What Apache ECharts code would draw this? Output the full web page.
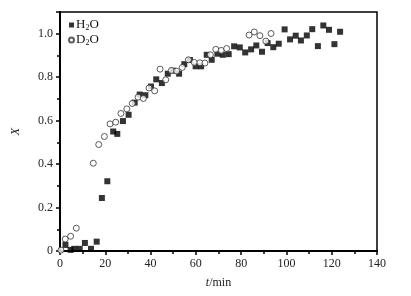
<!DOCTYPE html>
<html>
<head>
<meta charset="utf-8">
<script src="https://cdn.jsdelivr.net/npm/echarts@6/dist/echarts.min.js"></script>
<style>
  html, body { margin: 0; padding: 0; background: #fff; }
  #chart { width: 411px; height: 296px; }
</style>
</head>
<body>
<div id="chart"></div>
<script>
// H2O (filled squares): [t/min, X]
const h2oData = [
  [2.4, 0.028], [4.7, 0.005], [6.3, 0.01], [8.7, 0.01], [11.0, 0.037], [13.7, 0.01],
  [16.2, 0.043], [18.5, 0.244], [20.9, 0.321], [23.5, 0.55], [25.3, 0.539], [27.8, 0.598],
  [30.3, 0.627], [33.0, 0.683], [35.2, 0.72], [37.7, 0.717], [40.2, 0.757], [42.5, 0.79],
  [45.0, 0.773], [47.6, 0.816], [50.0, 0.83], [52.6, 0.816], [54.9, 0.86], [57.4, 0.879],
  [59.9, 0.85], [62.3, 0.85], [64.8, 0.903], [67.0, 0.88], [69.5, 0.908], [71.9, 0.903],
  [74.5, 0.906], [76.9, 0.942], [79.4, 0.937], [81.8, 0.914], [84.4, 0.928], [86.7, 0.946],
  [89.2, 0.917], [91.7, 0.957], [94.2, 0.938], [96.6, 0.954], [99.2, 1.02], [101.6, 0.974],
  [104.1, 0.991], [106.4, 0.969], [109.0, 0.992], [111.4, 1.021], [113.9, 0.943],
  [116.3, 1.038], [118.8, 1.018], [121.2, 0.952], [123.7, 1.009]
];
// D2O (open circles): [t/min, X]
const d2oData = [
  [0.4, 0.004], [2.3, 0.055], [4.7, 0.068], [7.2, 0.105], [14.7, 0.404], [17.1, 0.49],
  [19.6, 0.527], [22.1, 0.585], [24.6, 0.593], [26.9, 0.633], [29.5, 0.654], [31.9, 0.679],
  [34.5, 0.708], [36.8, 0.702], [39.3, 0.75], [41.8, 0.737], [44.2, 0.837], [46.7, 0.788],
  [49.2, 0.831], [51.5, 0.828], [54.0, 0.845], [56.7, 0.88], [59.3, 0.868], [61.8, 0.866],
  [64.0, 0.865], [66.4, 0.903], [68.8, 0.928], [71.2, 0.923], [73.6, 0.932],
  [83.5, 0.994], [85.8, 1.008], [88.3, 0.991], [90.9, 0.966], [93.2, 1.001]
];
const seriesNames = ['H2O', 'D2O'];

const font = '"Liberation Serif", "DejaVu Serif", serif';
const chart = echarts.init(document.getElementById('chart'), null, { renderer: 'canvas' });

const axisCommon = {
  axisLine: { show: true, onZero: false, lineStyle: { color: '#000', width: 2 } },
  axisTick: { show: true, inside: false, length: 4, lineStyle: { color: '#000', width: 1.5 } },
  minorTick: { show: true, splitNumber: 2, length: 3, lineStyle: { color: '#000', width: 1.5 } },
  splitLine: { show: false },
  axisLabel: { color: '#222', fontFamily: font, fontSize: 12, margin: 7 }
};

chart.setOption({
  animation: false,
  backgroundColor: '#fff',
  grid: {
    left: 60, right: 34, top: 12, bottom: 45,
    show: true, borderColor: '#000', borderWidth: 1.5
  },
  legend: {
    left: 68, top: 18, orient: 'vertical', itemGap: 1, padding: 0,
    itemWidth: 5, itemHeight: 5,
    textStyle: {
      fontFamily: font, fontSize: 13, color: '#111', lineHeight: 14, padding: [0, 0, 0, -3],
      rich: { sub: { fontFamily: font, fontSize: 8, verticalAlign: 'bottom', padding: [6, 0, 0, 0], color: '#111' } }
    },
    formatter: function (name) { return name.replace('2', '{sub|2}'); },
    data: seriesNames
  },
  xAxis: Object.assign({}, axisCommon, {
    type: 'value', min: 0, max: 140, interval: 20,
    name: '{i|t}/min', nameLocation: 'middle', nameGap: 26,
    nameTextStyle: {
      fontFamily: font, fontSize: 12, color: '#222',
      rich: { i: { fontStyle: 'italic', fontFamily: font, fontSize: 12, color: '#222' } }
    }
  }),
  yAxis: Object.assign({}, axisCommon, {
    type: 'value', min: 0, max: 1.1, interval: 0.2,
    name: 'X', nameLocation: 'middle', nameGap: 38, nameRotate: 90,
    nameTextStyle: { fontFamily: font, fontSize: 12, fontStyle: 'italic', color: '#222' },
    axisLabel: Object.assign({}, axisCommon.axisLabel, {
      formatter: function (v) { return v > 1.05 ? '' : (v === 0 ? '0' : v.toFixed(1)); }
    })
  }),
  series: [
    {
      name: seriesNames[0], type: 'scatter', data: h2oData,
      symbol: 'rect', symbolSize: 6,
      itemStyle: { color: '#000' }
    },
    {
      name: seriesNames[1], type: 'scatter', data: d2oData,
      symbol: 'circle', symbolSize: 6,
      itemStyle: { color: '#fff', borderColor: '#333', borderWidth: 1 }
    }
  ]
});
</script>
</body>
</html>
